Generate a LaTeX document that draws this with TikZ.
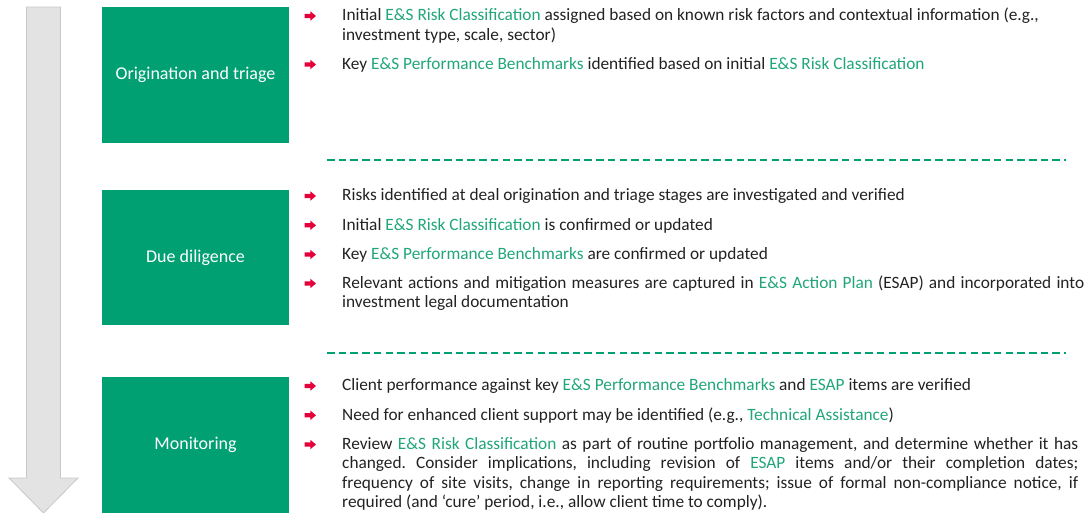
\documentclass[tikz,border=0pt]{standalone}
\usepackage{fontspec}
\setmainfont{Carlito}
\usetikzlibrary{shapes.arrows}
\definecolor{boxgreen}{RGB}{0,160,115}
\definecolor{txtgreen}{RGB}{32,166,120}
\definecolor{bulred}{RGB}{228,0,58}
\definecolor{txtgray}{RGB}{34,34,34}
\definecolor{arrfill}{RGB}{227,227,227}
\definecolor{arrline}{RGB}{200,200,200}
\newcommand{\gr}[1]{\textcolor{txtgreen}{#1}}
\frenchspacing
\begin{document}
\begin{tikzpicture}[x=1pt,y=-1pt,
  stagebox/.style={fill=boxgreen,draw=none,minimum width=187pt,minimum height=135.5pt,inner sep=0pt,text=white,font=\fontsize{18}{21}\selectfont},
  bul/.style={single arrow,fill=bulred,draw=none,inner sep=1.9pt,minimum height=11.5pt,single arrow head extend=2.6pt,single arrow tip angle=80},
  txt/.style={anchor=base west,inner sep=0pt,text=txtgray,font=\fontsize{17.3}{20}\selectfont},
  sep/.style={draw=boxgreen,line width=1.8pt,dash pattern=on 7.5pt off 4.2pt}]
\useasboundingbox (0,0) rectangle (1089,512);
% big arrow
\filldraw[fill=arrfill,draw=arrline,line width=0.8pt]
  (26.5,7) -- (60.5,7) -- (60.5,478) -- (78,478) -- (43.5,513) -- (9,478) -- (26.5,478) -- cycle;
% stage boxes
\node[stagebox] (s1) at (195.5,75) {Origination and triage};
\node[stagebox] (s2) at (195.5,257.7) {Due diligence};
\node[stagebox] (s3) at (195.5,445) {Monitoring};
% separators
\coordinate (d1a) at (327,160); \coordinate (d1b) at (1066,160);
\coordinate (d2a) at (327,352.7); \coordinate (d2b) at (1066,352.7);
\draw[sep] (d1a) -- (d1b);
\draw[sep] (d2a) -- (d2b);
% origination
\node[bul] (b11) at (309,16) {};
\node[txt] (t11) at (342,20.7) {Initial \gr{E\&S Risk Classification} assigned based on known risk factors and contextual information (e.g.,};
\node[txt] (t11b) at (342,40.5) {investment type, scale, sector)};
\node[bul] (b12) at (309,64.5) {};
\node[txt] (t12) at (342,69) {Key \gr{E\&S Performance Benchmarks} identified based on initial \gr{E\&S Risk Classification}};
% due diligence
\node[bul] (b21) at (309,196) {};
\node[txt] (t21) at (342,200.7) {Risks identified at deal origination and triage stages are investigated and verified};
\node[bul] (b22) at (309,225.3) {};
\node[txt] (t22) at (342,230) {Initial \gr{E\&S Risk Classification} is confirmed or updated};
\node[bul] (b23) at (309,254.5) {};
\node[txt] (t23) at (342,259) {Key \gr{E\&S Performance Benchmarks} are confirmed or updated};
\node[bul] (b24) at (309,283.5) {};
\node[txt] (t24) at (342,288) {\makebox[742pt][s]{Relevant actions and mitigation measures are captured in \gr{E\&S Action Plan} (ESAP) and incorporated into}};
\node[txt] (t24b) at (342,307.7) {investment legal documentation};
% monitoring
\node[bul] (b31) at (309,386) {};
\node[txt] (t31) at (342,390.7) {Client performance against key \gr{E\&S Performance Benchmarks} and \gr{ESAP} items are verified};
\node[bul] (b32) at (309,415.3) {};
\node[txt] (t32) at (342,420) {Need for enhanced client support may be identified (e.g., \gr{Technical Assistance})};
\node[bul] (b33) at (309,444.5) {};
\node[txt] (t33) at (342,449) {\makebox[736pt][s]{Review \gr{E\&S Risk Classification} as part of routine portfolio management, and determine whether it has}};
\node[txt] (t33b) at (342,468.5) {\makebox[736pt][s]{changed. Consider implications, including revision of \gr{ESAP} items and/or their completion dates;}};
\node[txt] (t33c) at (342,488) {\makebox[736pt][s]{frequency of site visits, change in reporting requirements; issue of formal non-compliance notice, if}};
\node[txt] (t33d) at (342,507.5) {required (and ‘cure’ period, i.e., allow client time to comply).};
\end{tikzpicture}
\end{document}
